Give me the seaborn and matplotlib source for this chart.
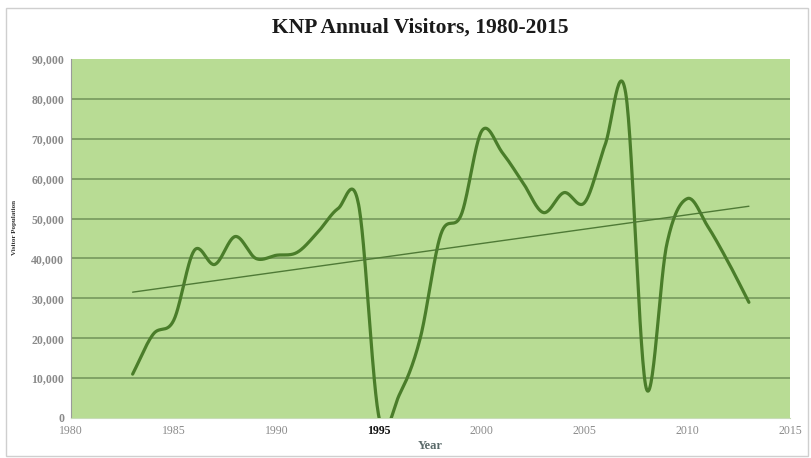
import numpy as np
import pandas as pd
import matplotlib
matplotlib.use("Agg")
import matplotlib.pyplot as plt
from matplotlib.ticker import FuncFormatter
from matplotlib.patches import Rectangle
import seaborn as sns

years = list(range(1983, 2014))
visitors = [11000, 21000, 24500, 42000, 38500, 45500, 40000, 40800, 41500, 46500,
            52500, 53500, 0, 6000, 20000, 46000, 51000, 72000, 66500, 59000,
            51500, 56500, 54000, 68500, 81500, 7500, 43500, 55000, 48000, 39000,
            29000]
x_ticks = [1980, 1985, 1990, 1995, 2000, 2005, 2010, 2015]
y_ticks = list(range(0, 90001, 10000))

df = pd.DataFrame({"Year": years, "Visitors": visitors})


def smooth_line(x, y, steps=30):
    """Catmull-Rom smoothing through every data point (spreadsheet-style smoothed line)."""
    x = np.asarray(x, float)
    y = np.asarray(y, float)
    px = np.concatenate([[2 * x[0] - x[1]], x, [2 * x[-1] - x[-2]]])
    py = np.concatenate([[2 * y[0] - y[1]], y, [2 * y[-1] - y[-2]]])
    xs, ys = [], []
    t = np.linspace(0, 1, steps, endpoint=False)
    for i in range(1, len(px) - 2):
        for arr, out in ((px, xs), (py, ys)):
            p0, p1, p2, p3 = arr[i - 1], arr[i], arr[i + 1], arr[i + 2]
            out.extend(0.5 * ((2 * p1) + (-p0 + p2) * t
                              + (2 * p0 - 5 * p1 + 4 * p2 - p3) * t ** 2
                              + (-p0 + 3 * p1 - 3 * p2 + p3) * t ** 3))
    xs.append(x[-1])
    ys.append(y[-1])
    return pd.DataFrame({"Year": xs, "Visitors": ys})


smooth = smooth_line(df["Year"], df["Visitors"])

sns.set_theme(style="white")
plt.rcParams["font.family"] = ["Liberation Serif", "DejaVu Serif"]

fig = plt.figure(figsize=(8.12, 4.58), dpi=100)
fig.patch.set_facecolor("white")
ax = fig.add_axes([71 / 812, 1 - 418 / 458, (790 - 71) / 812, (418 - 59) / 458])
ax.set_facecolor("#b8dc94")

for v in y_ticks[1:-1]:
    ax.axhline(v, color="#7c9f62", lw=1.3, zorder=1)

sns.lineplot(data=smooth, x="Year", y="Visitors", sort=False, ax=ax,
             color="#4a7d2a", lw=2.3, zorder=3)
sns.regplot(data=df, x="Year", y="Visitors", ax=ax, scatter=False, ci=None,
            truncate=True, line_kws={"color": "#4f7a36", "lw": 1.0, "zorder": 4})

ax.set_xlim(1980, 2015)
ax.set_ylim(0, 90000)
ax.set_xticks(x_ticks)
ax.set_yticks(y_ticks)
ax.yaxis.set_major_formatter(FuncFormatter(lambda v, p: f"{int(v):,}"))
ax.tick_params(axis="both", labelsize=8.5, colors="#8a8a8a", length=2, width=0.6,
               pad=3)
for lbl in ax.get_xticklabels():
    lbl.set_color("#8a8a8a")
    if lbl.get_text() == "1995":
        lbl.set_color("#111111")
        lbl.set_fontweight("bold")
for lbl in ax.get_yticklabels():
    lbl.set_fontweight("bold")
    lbl.set_color("#8a8a8a")

for side in ("top", "right"):
    ax.spines[side].set_visible(False)
ax.spines["left"].set_color("#9a9a9a")
ax.spines["left"].set_linewidth(0.8)
ax.spines["bottom"].set_color("#c8dcb8")
ax.spines["bottom"].set_linewidth(0.8)

ax.set_xlabel("Year", fontsize=9, color="#5a6a6a", fontweight="bold", labelpad=2)
ax.set_ylabel("Visitor Population", fontsize=5, color="#333333", fontweight="bold")
ax.yaxis.set_label_coords(-0.075, 0.53)

fig.text(420 / 812, 1 - 28 / 458, "KNP Annual Visitors, 1980-2015", ha="center",
         va="center", fontsize=15.5, fontweight="bold", color="#1a1a1a")

fig.patches.append(Rectangle((6 / 812, 0.005), 0.995 - 6 / 812, 1 - 8 / 458 - 0.005,
                             transform=fig.transFigure, fill=False,
                             edgecolor="#cfcfcf", lw=1.0))

fig.savefig("out.png", dpi=100, facecolor="white")
